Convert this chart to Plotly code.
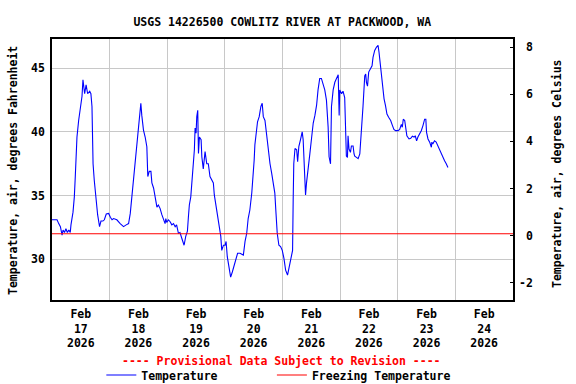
import pandas as pd
import plotly.graph_objects as go

# ---------------- data ----------------
START = "2026-02-17 00:00"
END = "2026-02-25 00:00"
DAY_LABELS = ["2026-02-17", "2026-02-18", "2026-02-19", "2026-02-20",
              "2026-02-21", "2026-02-22", "2026-02-23", "2026-02-24"]

# hours since Feb 17 00:00 and air temperature (deg F)
HOURS = [0.0, 2.1, 2.8, 3.5, 4.2, 4.6, 5.2, 5.8, 6.4, 7.0, 7.6, 7.9, 8.75, 9.3, 9.7,
         10.4, 11.1, 11.8, 12.5, 12.9, 13.6, 14.2, 14.85, 15.7, 16.2, 16.65, 16.8, 17.1,
         17.6, 18.0, 18.45, 19.0, 19.8, 20.4, 21.2, 21.8, 22.6, 23.6, 24.3, 25.0, 25.65,
         27.0, 28.4, 29.8, 30.9, 31.9, 32.6, 33.0, 33.7, 34.2, 34.8, 35.35, 36.0, 36.5,
         37.0, 37.4, 38.1, 38.8,
         39.5, 39.9, 40.5, 41.2, 41.6, 42.3, 43.0, 43.7, 44.3, 45.0, 45.75, 46.4, 47.1,
         47.4, 47.8, 48.5, 49.2, 49.9, 50.6, 51.3, 51.9, 52.65, 53.3, 54.05, 55.0, 55.7,
         56.4, 56.8, 57.2, 57.8, 58.2, 58.9, 59.3, 59.6, 60.0, 60.3, 60.7, 61.0, 61.4,
         62.1, 62.4, 63.0, 63.75, 64.45, 65.1, 65.8, 66.5, 67.2, 67.6, 68.2, 68.9, 69.3,
         69.7, 70.3, 70.7, 71.4, 72.1, 72.5, 73.0, 73.7, 74.4, 75.1, 75.9, 76.5, 77.3,
         78.3,
         79.7, 80.4, 81.1, 81.7, 82.4, 83.2, 83.8, 84.2, 84.5, 85.2, 85.6, 86.3, 87.0,
         87.55, 88.0, 88.7, 89.4, 90.05, 90.8, 91.5, 92.1, 92.8, 93.3, 93.8, 94.5, 95.2,
         95.9, 96.6, 97.3, 98.1, 98.8, 99.5, 100.2, 100.45, 100.7, 101.2, 101.9, 102.3,
         102.8, 103.5, 104.2, 104.6, 105.0, 105.6, 106.0, 106.7, 107.4, 108.1, 108.8,
         109.5, 110.2, 110.8, 111.5, 112.2, 112.9, 113.6, 114.3, 115.0, 115.4, 116.0,
         116.4, 117.1, 117.8, 118.5, 119.2, 119.6, 119.85, 120.6, 121.2, 121.9,
         122.2, 122.6, 123.05, 123.3, 123.7, 124.3, 124.7, 125.4, 125.8, 126.1, 126.8,
         127.5, 128.2, 128.6, 129.1, 129.55, 130.25, 130.65, 130.95, 131.4, 131.9, 132.6,
         133.3, 133.7, 134.4, 135.1, 135.8, 136.2, 136.8, 137.2, 137.9, 138.3, 138.9,
         139.5, 140.2, 141.05, 141.8, 142.4, 143.1, 144.1, 144.8, 145.5, 145.9, 146.3,
         146.9, 147.3, 147.8, 148.7, 149.4, 150.1, 150.8, 151.3, 151.85, 152.4, 153.1,
         153.8, 154.5, 155.2, 155.7, 156.0, 156.6, 157.3, 158.0, 158.2, 158.6, 159.3,
         160.0, 160.7, 161.4, 162.1, 162.8, 163.5, 164.2, 164.9]

TEMP_F = [33.1, 33.1, 32.8, 32.56, 31.9, 32.3, 32.1, 32.4, 32.1, 32.3, 32.1, 32.7, 33.7, 34.9, 36.5,
          39.6, 40.9, 42.0, 42.8, 44.1, 43.0, 43.7, 43.0, 43.2, 43.0, 42.0, 39.4, 37.5,
          36.2, 35.4, 34.7, 33.5, 32.56, 33.0, 33.0, 33.1, 33.55, 33.6, 33.3, 33.1, 33.2,
          33.1, 32.8, 32.56, 32.7, 32.8, 33.6, 34.4, 35.4, 36.8, 38.06, 39.2, 40.0, 40.9,
          42.25, 41.3, 40.15, 39.6,
          38.84, 36.5, 36.9, 36.9, 36.0, 35.6, 34.9, 34.1, 34.26, 34.0, 33.5, 33.2, 32.8,
          33.2, 32.9, 33.1, 32.95, 32.7, 32.8, 32.56, 32.7, 32.04, 32.1, 31.65, 31.1, 31.8,
          32.2, 33.3, 34.26, 34.9, 36.0, 37.3, 38.6, 40.3, 39.9, 41.2, 41.7, 38.3, 39.6,
          39.4, 38.05, 37.1, 38.45, 37.5, 37.5, 36.5, 36.2, 36.0, 35.05, 34.26, 33.5, 32.8,
          32.2, 31.8, 30.7, 31.1, 31.1, 31.4, 30.2, 29.4, 28.6, 29.0, 29.55, 29.94, 30.47,
          30.47,
          30.33, 31.4, 32.04, 33.2, 33.87, 35.2, 36.5, 37.8, 39.0, 39.9, 40.8, 41.2, 42.0,
          42.25, 41.2, 40.9, 39.6, 38.6, 37.5, 36.75, 36.0, 35.2, 33.6, 32.04, 31.1, 31.0,
          30.7, 30.07, 29.15, 28.76, 29.4, 29.94, 30.7, 34.65, 37.5, 38.7, 38.6, 37.66,
          38.84, 39.4, 40.0, 39.4, 37.5, 35.05, 36.0, 37.0, 38.3, 39.5, 40.7,
          41.3, 42.1, 43.3, 44.2, 44.2, 43.8, 43.3, 42.5, 40.4, 38.05, 37.5,
          42.0, 43.3, 43.9, 44.2, 44.5, 41.3, 43.3, 43.0, 43.2, 42.7,
          40.5, 38.1, 38.0, 39.7, 38.66, 38.4, 38.9, 38.9, 38.27, 38.1, 38.0,
          37.9, 38.27, 39.7, 40.5, 42.06, 44.4, 44.55, 43.9, 43.6, 44.7, 44.95,
          45.2, 45.86, 46.4, 46.65, 46.8, 46.26, 45.2, 44.4, 43.6, 42.6, 42.06,
          41.4, 41.15, 40.9, 40.5, 40.2, 40.1, 40.1, 40.2, 40.6, 40.37, 41.0,
          40.9, 40.1, 39.7, 39.45, 39.5, 39.66, 39.6, 39.7, 39.3, 39.6, 39.84,
          40.1, 40.5, 41.0, 41.0, 39.97, 39.45, 39.2, 38.8, 39.2, 39.05, 39.3,
          39.2, 38.9, 38.5, 38.27, 38.0, 37.74, 37.5, 37.2]

FREEZE_F = 32.0
F_TICKS = [30, 35, 40, 45]
C_TICKS = [-2, 0, 2, 4, 6, 8]

TITLE = "USGS 14226500 COWLITZ RIVER AT PACKWOOD, WA"
Y_TITLE_F = "Temperature, air, degrees Fahrenheit"
Y_TITLE_C = "Temperature, air, degrees Celsius"
NOTE = "---- Provisional Data Subject to Revision ----"

# ---------------- figure ----------------
FONT = "DejaVu Sans Mono"
FS = 11.5
GRID = "#c8c8c8"
W, H = 576, 384
ML, MR, MT, MB = 52, 63, 39, 84
PW, PH = W - ML - MR, H - MT - MB

t0 = pd.Timestamp(START)
times = t0 + pd.to_timedelta(HOURS, unit="h")
temp_c = [(v - 32) / 1.8 for v in TEMP_F]

days = pd.to_datetime(DAY_LABELS)
tickvals = days + pd.Timedelta(hours=12)
ticktext = [f"{d:%b}<br>{d.day}<br>{d:%Y}" for d in days]

c_text = [("\u00a0" + str(v)) if v >= 0 else str(v) for v in C_TICKS]

fig = go.Figure()
fig.add_trace(go.Scatter(x=times, y=TEMP_F, mode="lines", name="Temperature",
                         legend="legend",
                         line=dict(color="#0000ff", width=1.1)))
fig.add_trace(go.Scatter(x=[START, END], y=[FREEZE_F, FREEZE_F], mode="lines",
                         name="Freezing Temperature", legend="legend2",
                         line=dict(color="#ff0000", width=1.1)))
fig.add_trace(go.Scatter(x=times, y=temp_c, mode="lines", yaxis="y2",
                         showlegend=False, hoverinfo="skip",
                         line=dict(color="rgba(0,0,0,0)", width=0)))

bold = dict(family=FONT, size=FS, color="black", weight="bold")
leg_common = dict(orientation="h", xanchor="left", y=1 - 375 / H, yref="container",
                  yanchor="middle", font=bold, bgcolor="rgba(0,0,0,0)")

fig.update_layout(
    template="none",
    width=W, height=H,
    margin=dict(l=ML, r=MR, t=MT, b=MB, pad=0, autoexpand=False),
    paper_bgcolor="white", plot_bgcolor="white",
    font=bold,
    title=dict(text=TITLE, x=0.49, xanchor="center", y=1 - 22 / H,
               yanchor="middle", yref="container", font=bold),
    xaxis=dict(range=[START, END], type="date", tickmode="array",
               tickvals=tickvals, ticktext=ticktext, showgrid=False,
               ticks="", showline=True, linecolor="black", linewidth=1.5,
               mirror=True, tickfont=bold, zeroline=False, automargin=False,
               ticklabelstandoff=2,
               minor=dict(tick0=START, dtick=86400000, showgrid=True,
                          gridcolor=GRID, gridwidth=1, ticks="")),
    yaxis=dict(range=[26.8, 47.3], tickvals=F_TICKS, showgrid=True,
               gridcolor=GRID, gridwidth=1, ticks="", showline=True,
               linecolor="black", linewidth=1.5, mirror=True,
               zeroline=False, tickfont=bold, automargin=False,
               ticklabelstandoff=3),
    yaxis2=dict(range=[-2.735, 8.35], tickvals=C_TICKS, ticktext=c_text,
                overlaying="y", side="right", showgrid=False,
                ticks="inside", ticklen=3, tickcolor="black", tickwidth=1,
                zeroline=False, showline=False, tickfont=bold,
                automargin=False, ticklabelstandoff=5),
    legend=dict(x=0.107, **leg_common),
    legend2=dict(x=0.477, **leg_common),
    showlegend=True,
)

fig.add_annotation(text=NOTE, xref="paper", yref="paper", x=0.4976,
                   y=-(361 - (MT + PH)) / PH,
                   xanchor="center", yanchor="middle", showarrow=False,
                   font=dict(family=FONT, size=FS, color="#ff0000", weight="bold"))
fig.add_annotation(text=Y_TITLE_F, xref="paper", yref="paper", x=(13 - ML) / PW,
                   y=(MT + PH - 171) / PH, textangle=-90, xanchor="center",
                   yanchor="middle", showarrow=False, font=bold)
fig.add_annotation(text=Y_TITLE_C, xref="paper", yref="paper", x=(557 - ML) / PW,
                   y=(MT + PH - 174) / PH, textangle=-90, xanchor="center",
                   yanchor="middle", showarrow=False, font=bold)

fig.write_html("out.html", config={"displayModeBar": False},
               post_script="document.body.style.margin='0';document.body.style.overflow='hidden';")
